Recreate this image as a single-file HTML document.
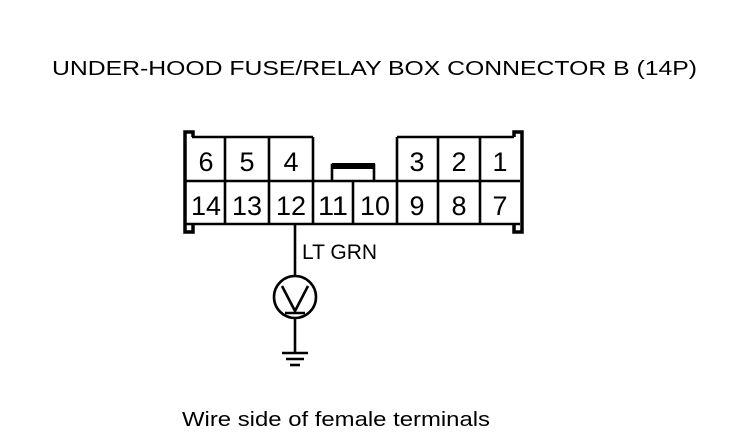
<!DOCTYPE html>
<html><head><style>
body{margin:0;background:#fff;}
svg{display:block}
text{font-family:"Liberation Sans",Arial,sans-serif;fill:#000}
</style></head><body>
<svg width="736" height="436" viewBox="0 0 736 436">
<text x="52" y="75" font-size="20" textLength="645" lengthAdjust="spacingAndGlyphs">UNDER-HOOD FUSE/RELAY BOX CONNECTOR B (14P)</text>
<g stroke="#000" stroke-width="2.6" fill="none">
<path d="M193 137 V132 H185 V232 H193 V224" stroke-width="3.5"/>
<path d="M514 137 V132 H522 V232 H514 V224" stroke-width="3.5"/>
<line x1="192" y1="137" x2="313" y2="137"/>
<line x1="397" y1="137" x2="514" y2="137"/>
<line x1="186" y1="181" x2="520" y2="181"/>
<line x1="186" y1="224" x2="520" y2="224"/>
<line x1="313" y1="137" x2="313" y2="224"/>
<line x1="397" y1="137" x2="397" y2="224"/>
<line x1="225" y1="137" x2="225" y2="224"/>
<line x1="269" y1="137" x2="269" y2="224"/>
<line x1="438" y1="137" x2="438" y2="224"/>
<line x1="480" y1="137" x2="480" y2="224"/>
<line x1="353" y1="181" x2="353" y2="224"/>
<path d="M332 181 V165 H374 V181"/>
<line x1="295" y1="224" x2="295" y2="276"/>
<circle cx="295" cy="297" r="21"/>
<path d="M282 286 L295 311 L308 286"/>
<line x1="285" y1="313" x2="305" y2="313"/>
<line x1="295" y1="318" x2="295" y2="352"/>
<line x1="282" y1="353" x2="308" y2="353"/>
<line x1="286" y1="359" x2="304" y2="359"/>
<line x1="290" y1="365" x2="300" y2="365"/>
</g>
<rect x="332" y="163" width="43" height="6" fill="#000"/>
<g font-size="27" text-anchor="middle">
<text x="206" y="171">6</text><text x="247" y="171">5</text><text x="291" y="171">4</text>
<text x="417" y="171">3</text><text x="459" y="171">2</text><text x="500" y="171">1</text>
<text x="206" y="215" textLength="30" lengthAdjust="spacingAndGlyphs">14</text><text x="247" y="215" textLength="30" lengthAdjust="spacingAndGlyphs">13</text><text x="291" y="215" textLength="30" lengthAdjust="spacingAndGlyphs">12</text>
<text x="333" y="215" textLength="30" lengthAdjust="spacingAndGlyphs">11</text><text x="375" y="215" textLength="30" lengthAdjust="spacingAndGlyphs">10</text>
<text x="417" y="215">9</text><text x="459" y="215">8</text><text x="500" y="215">7</text>
</g>
<text x="302" y="259" font-size="21">LT GRN</text>
<text x="182" y="426" font-size="20" textLength="308" lengthAdjust="spacingAndGlyphs">Wire side of female terminals</text>
</svg>
</body></html>
